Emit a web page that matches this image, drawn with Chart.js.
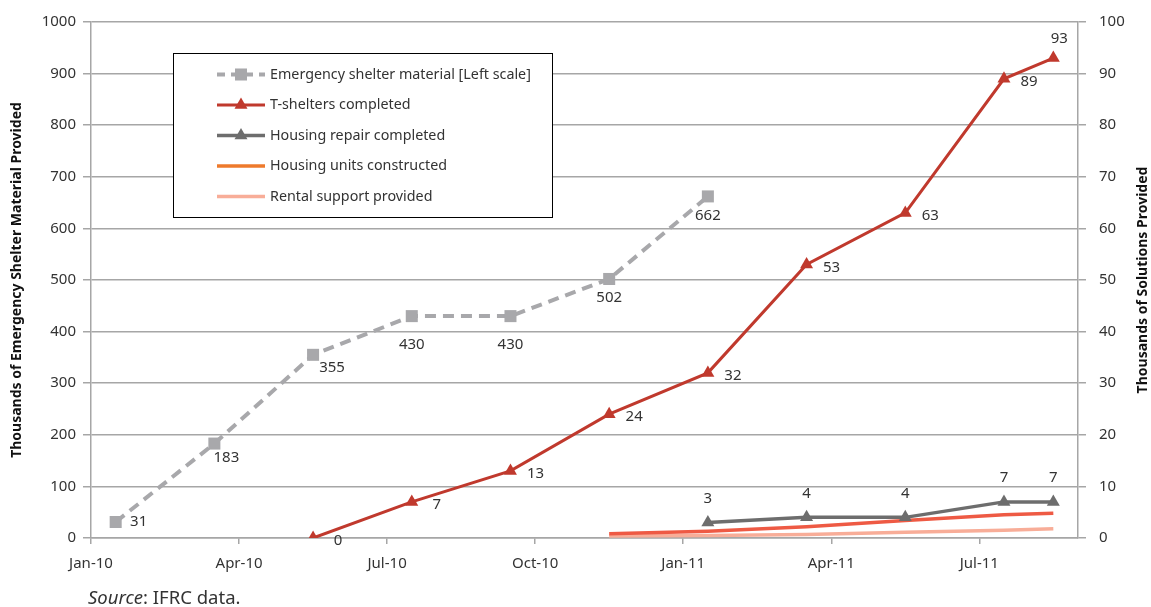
<!DOCTYPE html>
<html>
<head>
<meta charset="utf-8">
<script src="https://cdn.jsdelivr.net/npm/chart.js@4.4.1/dist/chart.umd.min.js"></script>
<style>
  html, body { margin: 0; padding: 0; background: #fff; }
  #wrap { width: 1151px; height: 607px; position: relative; }
</style>
</head>
<body>
<div id="wrap"><canvas id="shelterChart"></canvas></div>
<script>
// x values are months counted from 1 Jan 2010
const tickMonths = [0, 3, 6, 9, 12, 15, 18];
const tickLabels = ["Jan-10", "Apr-10", "Jul-10", "Oct-10", "Jan-11", "Apr-11", "Jul-11"];

const shelterMonths = [0.5, 2.5, 4.5, 6.5, 8.5, 10.5, 12.5];
const shelterMaterial = [31, 183, 355, 430, 430, 502, 662];

const tshelterMonths = [4.5, 6.5, 8.5, 10.5, 12.5, 14.5, 16.5, 18.5, 19.5];
const tshelters = [0, 7, 13, 24, 32, 53, 63, 89, 93];

const repairMonths = [12.5, 14.5, 16.5, 18.5, 19.5];
const housingRepair = [3, 4, 4, 7, 7];

const housingMonths = [10.5, 12.5, 14.5, 16.5, 18.5, 19.5];
const housingUnits = [0.8, 1.3, 2.2, 3.4, 4.5, 4.8];
const rentalSupport = [0.4, 0.5, 0.7, 1.1, 1.5, 1.8];

const FONT = '"Noto Sans", sans-serif';
const TEXT = "#333333";
const GRID = "#a6a6a6";

function points(xs, ys) {
  return xs.map((x, i) => ({ x: x, y: ys[i] }));
}

// value labels next to the markers
const valueLabels = {
  id: "valueLabels",
  afterDatasetsDraw(chart) {
    const ctx = chart.ctx;
    ctx.save();
    ctx.font = "15px " + FONT;
    ctx.fillStyle = TEXT;
    ctx.textAlign = "center";
    ctx.textBaseline = "middle";
    chart.data.datasets.forEach((ds, i) => {
      if (!ds.labelOffset) return;
      const meta = chart.getDatasetMeta(i);
      meta.data.forEach((pt, j) => {
        const off = (ds.labelOverrides && ds.labelOverrides[j]) || ds.labelOffset;
        ctx.fillText(String(ds.data[j].y), pt.x + off[0], pt.y + off[1]);
      });
    });
    ctx.restore();
  },
};

// boxed legend sitting inside the plot
const boxLegend = {
  id: "boxLegend",
  afterDatasetsDraw(chart, args, opts) {
    const ctx = chart.ctx;
    const b = opts.box;
    ctx.save();
    ctx.fillStyle = "#fff";
    ctx.fillRect(b.x, b.y, b.w, b.h);
    ctx.strokeStyle = "#000";
    ctx.lineWidth = 1;
    ctx.strokeRect(b.x + 0.5, b.y + 0.5, b.w, b.h);
    ctx.font = "14.3px " + FONT;
    ctx.textBaseline = "middle";
    chart.data.datasets.forEach((ds, i) => {
      const y = b.y + 21.5 + i * 30.5;
      const color = ds.legendColor || ds.borderColor;
      ctx.save();
      ctx.strokeStyle = color;
      ctx.lineWidth = ds.borderWidth;
      ctx.setLineDash(ds.borderDash ? [8, 6] : []);
      ctx.beginPath();
      ctx.moveTo(b.x + 44, y);
      ctx.lineTo(b.x + 92, y);
      ctx.stroke();
      ctx.restore();
      if (ds.pointRadius > 0) {
        ctx.fillStyle = ds.pointBackgroundColor;
        ctx.strokeStyle = ds.pointBackgroundColor;
        Chart.helpers.drawPoint(ctx, {
          pointStyle: ds.pointStyle, rotation: 0,
          radius: ds.pointRadius, borderWidth: 0,
        }, b.x + 68, y);
      }
      ctx.fillStyle = TEXT;
      ctx.fillText(ds.label, b.x + 97, y);
    });
    ctx.restore();
  },
};

// right axis title (reads upward) and the source line
const extras = {
  id: "extras",
  afterDraw(chart) {
    const ctx = chart.ctx;
    const area = chart.chartArea;
    ctx.save();
    ctx.fillStyle = "#111";
    ctx.font = "bold 14px " + FONT;
    ctx.textAlign = "center";
    ctx.textBaseline = "middle";
    ctx.translate(1143, (area.top + area.bottom) / 2);
    ctx.rotate(-Math.PI / 2);
    ctx.fillText("Thousands of Solutions Provided", 0, 0);
    ctx.restore();

    ctx.save();
    ctx.fillStyle = TEXT;
    ctx.textBaseline = "alphabetic";
    ctx.font = "italic 18.5px " + FONT;
    ctx.fillText("Source", 88, 604);
    const w = ctx.measureText("Source").width;
    ctx.font = "18.5px " + FONT;
    ctx.fillText(": IFRC data.", 88 + w, 604);
    ctx.restore();
  },
};

const ctx = document.getElementById("shelterChart").getContext("2d");

new Chart(ctx, {
  type: "line",
  data: {
    datasets: [
      {
        label: "Emergency shelter material [Left scale]",
        data: points(shelterMonths, shelterMaterial),
        yAxisID: "y",
        borderColor: "#a8a8ab",
        borderWidth: 4,
        borderDash: [11, 7],
        pointStyle: "rect",
        pointRadius: 8.5,
        pointBackgroundColor: "#a8a8ab",
        pointBorderWidth: 0,
        labelOffset: [0, 19],
        labelOverrides: { 0: [23, 0], 1: [12, 14], 2: [19, 13], 3: [0, 29], 4: [0, 29] },
      },
      {
        label: "T-shelters completed",
        data: points(tshelterMonths, tshelters),
        yAxisID: "y1",
        borderColor: "#c0392d",
        borderWidth: 3,
        pointStyle: "triangle",
        pointRadius: 7.5,
        pointBackgroundColor: "#c0392d",
        pointBorderWidth: 0,
        labelOffset: [25, 3],
        labelOverrides: { 8: [6, -19] },
      },
      {
        label: "Housing repair completed",
        data: points(repairMonths, housingRepair),
        yAxisID: "y1",
        borderColor: "#6d6d6d",
        borderWidth: 3.5,
        pointStyle: "triangle",
        pointRadius: 7.5,
        pointBackgroundColor: "#6d6d6d",
        pointBorderWidth: 0,
        labelOffset: [0, -24],
      },
      {
        label: "Housing units constructed",
        data: points(housingMonths, housingUnits),
        yAxisID: "y1",
        borderColor: "#ee5a44",
        legendColor: "#ee7a2c",
        borderWidth: 3.5,
        pointRadius: 0,
      },
      {
        label: "Rental support provided",
        data: points(housingMonths, rentalSupport),
        yAxisID: "y1",
        borderColor: "#f8ad98",
        borderWidth: 3.5,
        pointRadius: 0,
      },
    ],
  },
  options: {
    responsive: true,
    maintainAspectRatio: false,
    animation: false,
    layout: { padding: { top: 18, left: 0, right: 0, bottom: 0 } },
    plugins: {
      legend: { display: false },
      tooltip: { enabled: false },
      boxLegend: { box: { x: 173, y: 53, w: 379, h: 164 } },
    },
    scales: {
      x: {
        type: "linear",
        min: 0,
        max: 20,
        afterBuildTicks: (scale) => {
          scale.ticks = tickMonths.map((v) => ({ value: v }));
        },
        afterFit: (scale) => { scale.height = 69; },
        ticks: {
          autoSkip: false,
          maxRotation: 0,
          padding: 11,
          color: TEXT,
          font: { family: FONT, size: 15 },
          callback: (value) => {
            const i = tickMonths.indexOf(value);
            return i >= 0 ? tickLabels[i] : "";
          },
        },
        grid: { drawOnChartArea: false, tickLength: 6, color: GRID, lineWidth: 1.5 },
        border: { color: GRID, width: 1.5 },
      },
      y: {
        position: "left",
        min: 0,
        max: 1000,
        afterFit: (scale) => { scale.width = 91; },
        ticks: {
          stepSize: 100,
          padding: 7,
          color: TEXT,
          font: { family: FONT, size: 15 },
          callback: (value) => String(value),
        },
        grid: { color: GRID, lineWidth: 1.5, tickLength: 8 },
        border: { color: GRID, width: 1.5 },
        title: {
          display: true,
          text: "Thousands of Emergency Shelter Material Provided",
          color: "#111",
          font: { family: FONT, size: 14, weight: "bold" },
          padding: { top: 9, bottom: 0 },
        },
      },
      y1: {
        position: "right",
        min: 0,
        max: 100,
        afterFit: (scale) => { scale.width = 73; },
        ticks: {
          stepSize: 10,
          padding: 13,
          color: TEXT,
          font: { family: FONT, size: 15 },
          callback: (value) => String(value),
        },
        grid: { drawOnChartArea: false, color: GRID, lineWidth: 1.5, tickLength: 8 },
        border: { color: GRID, width: 1.5 },
      },
    },
  },
  plugins: [valueLabels, boxLegend, extras],
});
</script>
</body>
</html>
